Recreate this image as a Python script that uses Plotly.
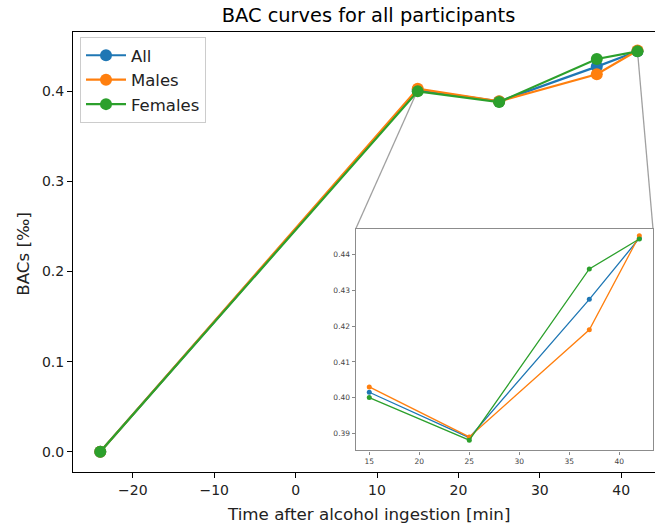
import plotly.graph_objects as go

# ---- data ----
time_min = [-24, 15, 25, 37, 42]
bac_all = [0.0, 0.4015, 0.3888, 0.4275, 0.4446]
bac_males = [0.0, 0.4030, 0.3890, 0.4190, 0.4453]
bac_females = [0.0, 0.4000, 0.3881, 0.4360, 0.4444]
series_names = ["All", "Males", "Females"]
colors = ["#1f77b4", "#ff7f0e", "#2ca02c"]

x_ticks = [-20, -10, 0, 10, 20, 30, 40]
y_ticks = [0.0, 0.1, 0.2, 0.3, 0.4]
inset_x_ticks = [15, 20, 25, 30, 35, 40]
inset_y_ticks = [0.39, 0.40, 0.41, 0.42, 0.43, 0.44]

# ---- layout params ----
main_xr = [-27.35, 44.15]
main_yr = [-0.0225, 0.4659]
inset_xr = [13.64, 43.37]
inset_yr = [0.3852, 0.4472]
inset_dx = [0.4857, 0.9966]
inset_dy = [0.0489, 0.5523]

font = "DejaVu Sans"
fig = go.Figure()

series = [bac_all, bac_males, bac_females]
for name, ys, c in zip(series_names, series, colors):
    fig.add_trace(go.Scatter(
        x=time_min, y=ys, mode="lines+markers", name=name,
        legendgroup=name,
        line=dict(color=c, width=2.2),
        marker=dict(color=c, size=12),
        xaxis="x", yaxis="y",
    ))

for name, ys, c in zip(series_names, series, colors):
    fig.add_trace(go.Scatter(
        x=time_min[1:], y=ys[1:], mode="lines+markers", name=name,
        showlegend=False,
        line=dict(color=c, width=1.3),
        marker=dict(color=c, size=5),
        xaxis="x2", yaxis="y2",
    ))

# connector lines from inset corners to the zoomed points (main data coords)
def paper_to_main(px, py):
    return (main_xr[0] + px * (main_xr[1] - main_xr[0]),
            main_yr[0] + py * (main_yr[1] - main_yr[0]))

corners = [(inset_dx[0], inset_dy[1], time_min[1], bac_all[1]),
           (inset_dx[1], inset_dy[1], time_min[-1], bac_all[-1])]
for px, py, tx, ty in corners:
    cx, cy = paper_to_main(px, py)
    fig.add_shape(type="line", xref="x", yref="y", x0=cx, y0=cy, x1=tx, y1=ty,
                  line=dict(color="#a0a0a0", width=1.3), layer="below")

axis_common = dict(showgrid=False, zeroline=False, ticks="outside",
                   linecolor="black", linewidth=1.1, tickcolor="black",
                   tickwidth=1.1)

fig.update_layout(
    width=655, height=528,
    margin=dict(l=73, r=0, t=32, b=56),
    paper_bgcolor="white", plot_bgcolor="white",
    font=dict(family=font, color="#222", size=14),
    title=dict(text="BAC curves for all participants",
               x=(368.5 / 655), xanchor="center", xref="container",
               y=1 - 15.5 / 528, yanchor="middle", yref="container",
               font=dict(size=19.4, color="black")),
    xaxis=dict(range=main_xr, tickvals=x_ticks, ticklen=5, mirror=True,
               showline=True, tickfont=dict(size=14, color="#222"),
               domain=[0, 1], **axis_common),
    yaxis=dict(range=main_yr, tickvals=y_ticks, tickformat=".1f", ticklen=5,
               showline=True, tickfont=dict(size=14, color="#222"),
               domain=[0, 1], **axis_common),
    xaxis2=dict(range=inset_xr, tickvals=inset_x_ticks, domain=inset_dx,
                anchor="y2", showgrid=False, zeroline=False, ticks="outside",
                ticklen=3, tickcolor="#888", linecolor="#8c8c8c", linewidth=1.2,
                showline=True, mirror=True,
                tickfont=dict(size=7.5, color="#444")),
    yaxis2=dict(range=inset_yr, tickvals=inset_y_ticks, tickformat=".2f",
                domain=inset_dy, anchor="x2", showgrid=False, zeroline=False,
                ticks="outside", ticklen=3, tickcolor="#888",
                linecolor="#8c8c8c", linewidth=1.2, showline=True, mirror=True,
                tickfont=dict(size=7.5, color="#444")),
    legend=dict(x=(80 - 73) / 582, y=(472 - 37) / 440, xanchor="left",
                yanchor="top", bgcolor="rgba(255,255,255,0.8)",
                bordercolor="#cccccc", borderwidth=1,
                font=dict(size=16.5, color="#222"), tracegroupgap=0,
                itemwidth=40),
    showlegend=True,
    annotations=[
        dict(text="Time after alcohol ingestion [min]", xref="paper",
             yref="paper", x=(368.5 - 73) / 582, y=(472 - 514) / 440,
             xanchor="center", yanchor="middle", showarrow=False,
             font=dict(size=16.7, color="#222")),
        dict(text="BACs [‰]", xref="paper", yref="paper",
             x=(22.7 - 73) / 582, y=(472 - 254) / 440, textangle=-90,
             xanchor="center", yanchor="middle", showarrow=False,
             font=dict(size=16.7, color="#222")),
    ],
)

fig.write_html("out.html")
